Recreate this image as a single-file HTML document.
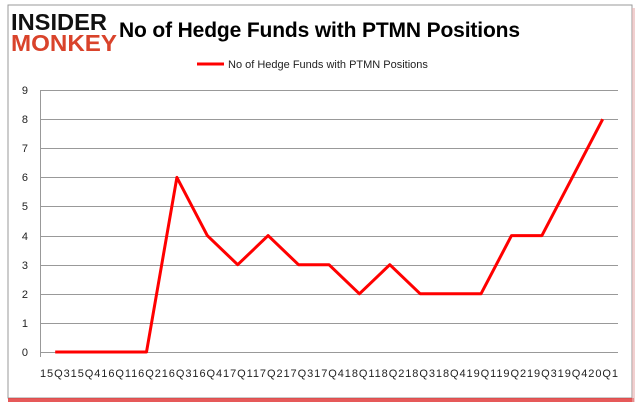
<!DOCTYPE html><html><head><style>
body{margin:0;width:637px;height:408px;background:#fff;overflow:hidden;font-family:"Liberation Sans",sans-serif}
</style></head><body>
<svg width="637" height="408" xmlns="http://www.w3.org/2000/svg">
<rect x="8" y="5" width="624" height="393" fill="#fff" stroke="#999" stroke-width="1"/>
<rect x="8" y="398" width="626" height="4" fill="#e03030" opacity="0.8"/>
<rect x="632" y="8" width="3" height="394" fill="#e8b0b0" opacity="0.6"/>
<text x="11" y="30" font-size="23" font-weight="bold" fill="#111" font-family="Liberation Sans" textLength="96" lengthAdjust="spacingAndGlyphs">INSIDER</text>
<text x="11" y="51" font-size="23" font-weight="bold" fill="#d9432b" font-family="Liberation Sans" textLength="106" lengthAdjust="spacingAndGlyphs">MONKEY</text>
<text x="119" y="37" font-size="21" font-weight="bold" fill="#000" textLength="401">No of Hedge Funds with PTMN Positions</text>
<line x1="197" y1="64" x2="224" y2="64" stroke="red" stroke-width="3"/>
<text x="228" y="68" font-size="11" fill="#222">No of Hedge Funds with PTMN Positions</text>
<g stroke="#999" stroke-width="1">
<line x1="40" y1="90.5" x2="618" y2="90.5"/><line x1="40" y1="119.5" x2="618" y2="119.5"/><line x1="40" y1="148.5" x2="618" y2="148.5"/><line x1="40" y1="177.5" x2="618" y2="177.5"/><line x1="40" y1="206.5" x2="618" y2="206.5"/><line x1="40" y1="236.5" x2="618" y2="236.5"/><line x1="40" y1="265.5" x2="618" y2="265.5"/><line x1="40" y1="294.5" x2="618" y2="294.5"/><line x1="40" y1="323.5" x2="618" y2="323.5"/><line x1="40" y1="352.5" x2="618" y2="352.5"/>
<line x1="40.5" y1="90" x2="40.5" y2="357"/>
</g>
<g font-size="11" fill="#222" text-anchor="end">
<text x="28" y="94">9</text><text x="28" y="123">8</text><text x="28" y="152">7</text><text x="28" y="181">6</text><text x="28" y="210">5</text><text x="28" y="240">4</text><text x="28" y="269">3</text><text x="28" y="298">2</text><text x="28" y="327">1</text><text x="28" y="356">0</text>
</g>
<text x="40" y="377" font-size="11" fill="#222" textLength="578">15Q315Q416Q116Q216Q316Q417Q117Q217Q317Q418Q118Q218Q318Q419Q119Q219Q319Q420Q1</text>
<polyline fill="none" stroke="red" stroke-width="3" stroke-linejoin="round" points="55.2,352 85.6,352 116,352 146.5,352 176.9,177.4 207.3,235.6 237.7,264.7 268.1,235.6 298.5,264.7 329,264.7 359.4,293.8 389.8,264.7 420.2,293.8 450.6,293.8 481,293.8 511.5,235.6 541.9,235.6 572.3,177.4 602.7,119.2"/>
</svg>
</body></html>
